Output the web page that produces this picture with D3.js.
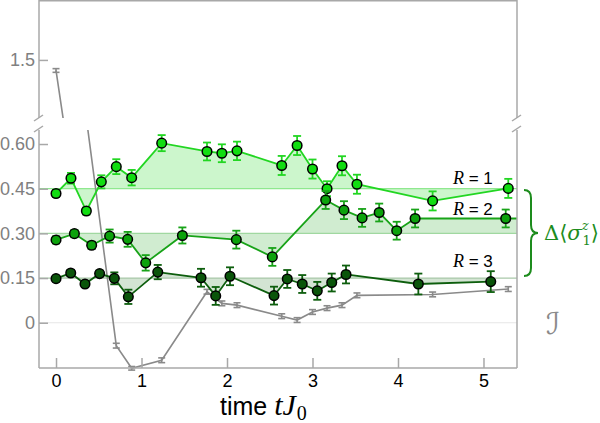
<!DOCTYPE html>
<html><head><meta charset="utf-8">
<script src="https://cdn.jsdelivr.net/npm/d3@7"></script>
<style>body{margin:0;background:#fff}svg{display:block}</style>
</head><body><svg id="c" width="600" height="423"></svg>
<script>
// ---- data ----
const xTicks = [0, 1, 2, 3, 4, 5];
const yTicksLower = [0, 0.15, 0.30, 0.45, 0.60];
const yTickLabelsLower = ["0", "0.15", "0.30", "0.45", "0.60"];
const yTicksUpper = [1.5];
const yTickLabelsUpper = ["1.5"];
const seriesNames = ["1", "2", "3"];
const baselines = [0.45, 0.30, 0.15];

const tR1 = [0, 0.175, 0.355, 0.53, 0.705, 0.885, 1.236, 1.766, 1.94, 2.117, 2.64, 2.82, 3.0, 3.17, 3.345, 3.52, 4.405, 5.29];
const vR1 = [0.434, 0.485, 0.375, 0.473, 0.524, 0.487, 0.603, 0.575, 0.569, 0.577, 0.528, 0.595, 0.516, 0.450, 0.527, 0.465, 0.409, 0.451];
const eR1 = [0.012, 0.018, 0.012, 0.022, 0.025, 0.026, 0.027, 0.03, 0.03, 0.031, 0.032, 0.032, 0.032, 0.025, 0.032, 0.032, 0.032, 0.032];

const tR2 = [0, 0.215, 0.417, 0.627, 0.838, 1.049, 1.478, 2.109, 2.53, 3.154, 3.368, 3.58, 3.78, 3.985, 4.2, 5.26];
const vR2 = [0.278, 0.299, 0.260, 0.291, 0.280, 0.201, 0.293, 0.279, 0.221, 0.412, 0.378, 0.352, 0.370, 0.309, 0.350, 0.350];
const eR2 = [0.012, 0.012, 0.012, 0.022, 0.025, 0.026, 0.027, 0.03, 0.03, 0.03, 0.03, 0.03, 0.03, 0.03, 0.03, 0.03];

const tR3 = [0, 0.172, 0.339, 0.51, 0.682, 0.846, 1.19, 1.696, 1.868, 2.035, 2.55, 2.705, 2.88, 3.056, 3.225, 3.392, 4.238, 5.085];
const vR3 = [0.148, 0.167, 0.130, 0.165, 0.149, 0.087, 0.170, 0.151, 0.090, 0.156, 0.091, 0.147, 0.130, 0.107, 0.135, 0.162, 0.130, 0.138];
const eR3 = [0.01, 0.01, 0.01, 0.01, 0.02, 0.024, 0.024, 0.03, 0.03, 0.03, 0.03, 0.03, 0.03, 0.03, 0.03, 0.03, 0.035, 0.035];

const tI = [0, 0.705, 0.885, 1.236, 1.766, 1.94, 2.117, 2.64, 2.82, 3.0, 3.17, 3.345, 3.52, 4.405, 5.29];
const vI = [1.46, -0.077, -0.153, -0.126, 0.104, 0.065, 0.059, 0.022, 0.009, 0.036, 0.049, 0.059, 0.092, 0.095, 0.113];
const eI = [0.007, 0.008, 0.006, 0.008, 0.008, 0.008, 0.008, 0.008, 0.008, 0.008, 0.008, 0.008, 0.008, 0.008, 0.008];

// ---- layout ----
const svg = d3.select("#c");
const L = 39, R = 517, B = 368, LT = 130, UB = 118;
const x = d3.scaleLinear().domain([-0.199, 5.392]).range([L, R]);
const yL = d3.scaleLinear().domain([-0.152, 0.637]).range([B, 133]);
const yU = d3.scaleLinear().domain([1.28, 1.727]).range([UB, 0]);

const frameCol = "#a8a8a8";
const defs = svg.append("defs");
defs.append("clipPath").attr("id", "clipL").append("rect").attr("x", L).attr("y", LT).attr("width", R - L).attr("height", B - LT + 3);
defs.append("clipPath").attr("id", "clipU").append("rect").attr("x", L).attr("y", 0).attr("width", R - L).attr("height", UB);

const series = [
  {t: tR1, v: vR1, e: eR1, base: baselines[0], fill: "#11dd11", line: "#22d622", area: "#ccf6cc", bl: "#8fe88f", extend: false},
  {t: tR2, v: vR2, e: eR2, base: baselines[1], fill: "#0ca20c", line: "#18a318", area: "#d0ecd0", bl: "#a0d8a0", extend: true},
  {t: tR3, v: vR3, e: eR3, base: baselines[2], fill: "#0a550a", line: "#0d5e0d", area: "#d3e4d3", bl: "#a9c8a9", extend: false}
];
series.forEach(s => {
  s.pts = s.t.map((t, i) => ({t, v: s.v[i], e: s.e[i]}));
  s.linePts = s.extend ? s.pts.concat([{t: x.domain()[1], v: s.v[s.v.length - 1]}]) : s.pts;
});

const gL = svg.append("g").attr("clip-path", "url(#clipL)");
const gU = svg.append("g").attr("clip-path", "url(#clipU)");

// areas
series.forEach(s => {
  gL.append("path").datum(s.linePts)
    .attr("d", d3.area().x(d => x(d.t)).y0(yL(s.base)).y1(d => yL(d.v)))
    .attr("fill", s.area);
});
// zero line
gL.append("line").attr("x1", L).attr("x2", R).attr("y1", yL(0)).attr("y2", yL(0)).attr("stroke", "#e6e6e6").attr("stroke-width", 1.2);
// baselines
series.forEach(s => {
  gL.append("line").attr("x1", L).attr("x2", R).attr("y1", yL(s.base)).attr("y2", yL(s.base)).attr("stroke", s.bl).attr("stroke-width", 1.2);
});

// gray series
const gPts = tI.map((t, i) => ({t, v: vI[i], e: eI[i]}));
const grayCol = "#8a8a8a";
[[gL, yL], [gU, yU]].forEach(([g, y]) => {
  g.append("path").datum(gPts).attr("d", d3.line().x(d => x(d.t)).y(d => y(d.v)))
    .attr("fill", "none").attr("stroke", grayCol).attr("stroke-width", 1.6);
  const eb = g.selectAll(null).data(gPts).enter().append("g").attr("stroke", grayCol).attr("stroke-width", 1.6);
  eb.append("line").attr("x1", d => x(d.t)).attr("x2", d => x(d.t)).attr("y1", d => y(d.v - d.e)).attr("y2", d => y(d.v + d.e));
  eb.append("line").attr("x1", d => x(d.t) - 3.5).attr("x2", d => x(d.t) + 3.5).attr("y1", d => y(d.v - d.e)).attr("y2", d => y(d.v - d.e));
  eb.append("line").attr("x1", d => x(d.t) - 3.5).attr("x2", d => x(d.t) + 3.5).attr("y1", d => y(d.v + d.e)).attr("y2", d => y(d.v + d.e));
});

// series lines, errors, markers
series.forEach(s => {
  gL.append("path").datum(s.linePts).attr("d", d3.line().x(d => x(d.t)).y(d => yL(d.v)))
    .attr("fill", "none").attr("stroke", s.line).attr("stroke-width", 1.8);
});
series.forEach(s => {
  const eb = gL.selectAll(null).data(s.pts).enter().append("g").attr("stroke", s.line).attr("stroke-width", 1.8);
  eb.append("line").attr("x1", d => x(d.t)).attr("x2", d => x(d.t)).attr("y1", d => yL(d.v - d.e)).attr("y2", d => yL(d.v + d.e));
  eb.append("line").attr("x1", d => x(d.t) - 4).attr("x2", d => x(d.t) + 4).attr("y1", d => yL(d.v - d.e)).attr("y2", d => yL(d.v - d.e));
  eb.append("line").attr("x1", d => x(d.t) - 4).attr("x2", d => x(d.t) + 4).attr("y1", d => yL(d.v + d.e)).attr("y2", d => yL(d.v + d.e));
  gL.selectAll(null).data(s.pts).enter().append("circle")
    .attr("cx", d => x(d.t)).attr("cy", d => yL(d.v)).attr("r", 4.8)
    .attr("fill", s.fill).attr("stroke", "#000").attr("stroke-width", 1.5);
});

// ---- frame ----
const fr = svg.append("g").attr("stroke", frameCol).attr("stroke-width", 1.5).attr("fill", "none");
fr.append("line").attr("x1", L).attr("x2", R).attr("y1", 0.75).attr("y2", 0.75);
fr.append("line").attr("x1", L).attr("x2", L).attr("y1", 0).attr("y2", UB);
fr.append("line").attr("x1", R).attr("x2", R).attr("y1", 0).attr("y2", UB);
fr.append("line").attr("x1", L).attr("x2", L).attr("y1", LT).attr("y2", B);
fr.append("line").attr("x1", R).attr("x2", R).attr("y1", LT).attr("y2", B);
fr.append("line").attr("x1", L).attr("x2", R).attr("y1", B).attr("y2", B);
[L, R].forEach(px => {
  fr.append("line").attr("x1", px - 5).attr("x2", px + 4).attr("y1", 121).attr("y2", 115);
  fr.append("line").attr("x1", px - 5).attr("x2", px + 4).attr("y1", 132).attr("y2", 126);
});

// ---- axes ----
function styleAxis(g, col, fs) {
  g.select(".domain").remove();
  g.selectAll(".tick line").attr("stroke", frameCol).attr("stroke-width", 1.5);
  g.selectAll(".tick text").attr("fill", col).attr("font-family", "Liberation Sans, Arial, sans-serif").attr("font-size", fs);
}
const axL = svg.append("g").attr("transform", `translate(${L},0)`)
  .call(d3.axisLeft(yL).tickValues(yTicksLower).tickFormat((d, i) => yTickLabelsLower[i]).tickSizeInner(-9).tickSizeOuter(0).tickPadding(4));
styleAxis(axL, "#808080", 18);
const axU = svg.append("g").attr("transform", `translate(${L},0)`)
  .call(d3.axisLeft(yU).tickValues(yTicksUpper).tickFormat((d, i) => yTickLabelsUpper[i]).tickSizeInner(-9).tickSizeOuter(0).tickPadding(4));
styleAxis(axU, "#808080", 18);
const axB = svg.append("g").attr("transform", `translate(0,${B})`)
  .call(d3.axisBottom(x).tickValues(xTicks).tickFormat(d3.format("d")).tickSizeInner(-10).tickSizeOuter(0).tickPadding(6));
styleAxis(axB, "#000", 18);

// x title
const xt = svg.append("text").attr("x", 220).attr("y", 415).attr("font-size", 25).attr("fill", "#000");
xt.append("tspan").attr("font-family", "Liberation Sans, Arial, sans-serif").text("time ");
xt.append("tspan").attr("font-family", "Liberation Serif, serif").attr("font-style", "italic").attr("font-size", 30).text("tJ");
xt.append("tspan").attr("font-family", "Liberation Serif, serif").attr("font-size", 20).attr("dx", 1).attr("dy", 5).text("0");

// series labels
const labY = [184, 215, 267];
seriesNames.forEach((n, i) => {
  const t = svg.append("text").attr("x", 453).attr("y", labY[i]).attr("font-size", 17).attr("fill", "#000");
  t.append("tspan").attr("font-family", "Liberation Serif, serif").attr("font-style", "italic").attr("font-size", 18).text("R");
  t.append("tspan").attr("font-family", "Liberation Sans, Arial, sans-serif").text(" = " + n);
});

// brace
const braceCol = "#1d8c1d";
svg.append("path")
  .attr("d", "M524,190 Q531,190 531,198 L531,225 Q531,233 538,233 Q531,233 531,241 L531,268 Q531,276 524,276")
  .attr("fill", "none").attr("stroke", braceCol).attr("stroke-width", 2);
const dl = svg.append("text").attr("x", 544).attr("y", 240).attr("fill", braceCol).attr("font-family", "DejaVu Serif, serif").attr("font-size", 21);
dl.append("tspan").text("Δ⟨");
dl.append("tspan").attr("font-style", "italic").text("σ");
dl.append("tspan").attr("font-size", 13).attr("dy", -10).attr("font-style", "italic").text("z");
dl.append("tspan").attr("font-size", 13).attr("dx", -6).attr("dy", 15).text("1");
dl.append("tspan").attr("dy", -5).text("⟩");

// calligraphic I
svg.append("text").attr("x", 546).attr("y", 334).attr("fill", "#8a8a8a")
  .attr("font-family", "DejaVu Sans, sans-serif").attr("font-style", "italic").attr("font-size", 30).text("ℐ");
</script></body></html>
